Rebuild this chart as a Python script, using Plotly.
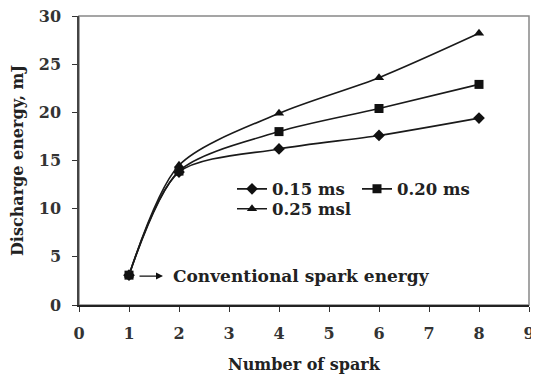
import plotly.graph_objects as go

sparks = [1, 2, 4, 6, 8]
e_015 = [3.1, 13.8, 16.2, 17.6, 19.4]
e_020 = [3.1, 13.9, 18.0, 20.4, 22.9]
e_025 = [3.1, 14.5, 19.9, 23.6, 28.2]
names = ["0.15 ms", "0.20 ms", "0.25 msl"]
symbols = ["diamond", "square", "triangle-up"]

FONT = "DejaVu Serif"
def f(size, color="#222"):
    return dict(family=FONT, size=size, color=color, weight="bold")

fig = go.Figure()
for vals, nm, sym, lg in zip([e_015, e_020, e_025], names, symbols, ["legend", "legend", "legend2"]):
    fig.add_trace(go.Scatter(
        x=sparks, y=vals, name=nm, mode="lines+markers",
        line=dict(color="#1a1a1a", width=1.6, shape="spline", smoothing=0.8),
        marker=dict(symbol=sym, size=9, color="#111111"),
        legend=lg,
    ))

fig.add_annotation(x=1.68, y=3.0, ax=1.18, ay=3.0, xref="x", yref="y", axref="x", ayref="y",
                   text="", showarrow=True, arrowhead=2, arrowsize=1, arrowwidth=1.4, arrowcolor="#111")
fig.add_annotation(x=1.84, y=3.0, xref="x", yref="y", xanchor="left", yanchor="middle",
                   text="Conventional spark energy", showarrow=False, font=f(17))

fig.update_layout(
    width=531, height=366,
    margin=dict(l=71, r=10, t=8, b=69),
    paper_bgcolor="white", plot_bgcolor="white",
    font=f(16),
    legend=dict(orientation="h", x=0.34, y=0.401, xanchor="left", yanchor="middle",
                font=f(16.5), itemwidth=30, bgcolor="rgba(0,0,0,0)", entrywidth=80, tracegroupgap=0),
    legend2=dict(orientation="h", x=0.34, y=0.332, xanchor="left", yanchor="middle",
                 font=f(16.5), itemwidth=30, bgcolor="rgba(0,0,0,0)"),
    xaxis=dict(range=[0, 9], dtick=1, tick0=0, ticks="outside", ticklen=5, tickcolor="#333",
               showline=True, linecolor="#222", linewidth=1.5, mirror=False, showgrid=False, zeroline=False,
               tickfont=f(16, "#333"), automargin=False, ticklabelstandoff=8, ticklabeloverflow="allow",
               title=dict(text="Number of spark", font=f(16), standoff=18)),
    yaxis=dict(range=[0, 30], dtick=5, tick0=0, ticks="outside", ticklen=5, tickcolor="#333",
               showline=True, linecolor="#444", linewidth=1.5, mirror=False, showgrid=False, zeroline=False,
               tickfont=f(16, "#333"), automargin=False, ticklabelstandoff=8, ticklabeloverflow="allow",
               title=dict(text="Discharge energy, mJ", font=f(16), standoff=12)),
    shapes=[dict(type="rect", xref="paper", yref="paper", x0=0, x1=1, y0=0, y1=1,
                 line=dict(color="#888", width=1.5), layer="below")],
)
fig.write_html("out.html")
